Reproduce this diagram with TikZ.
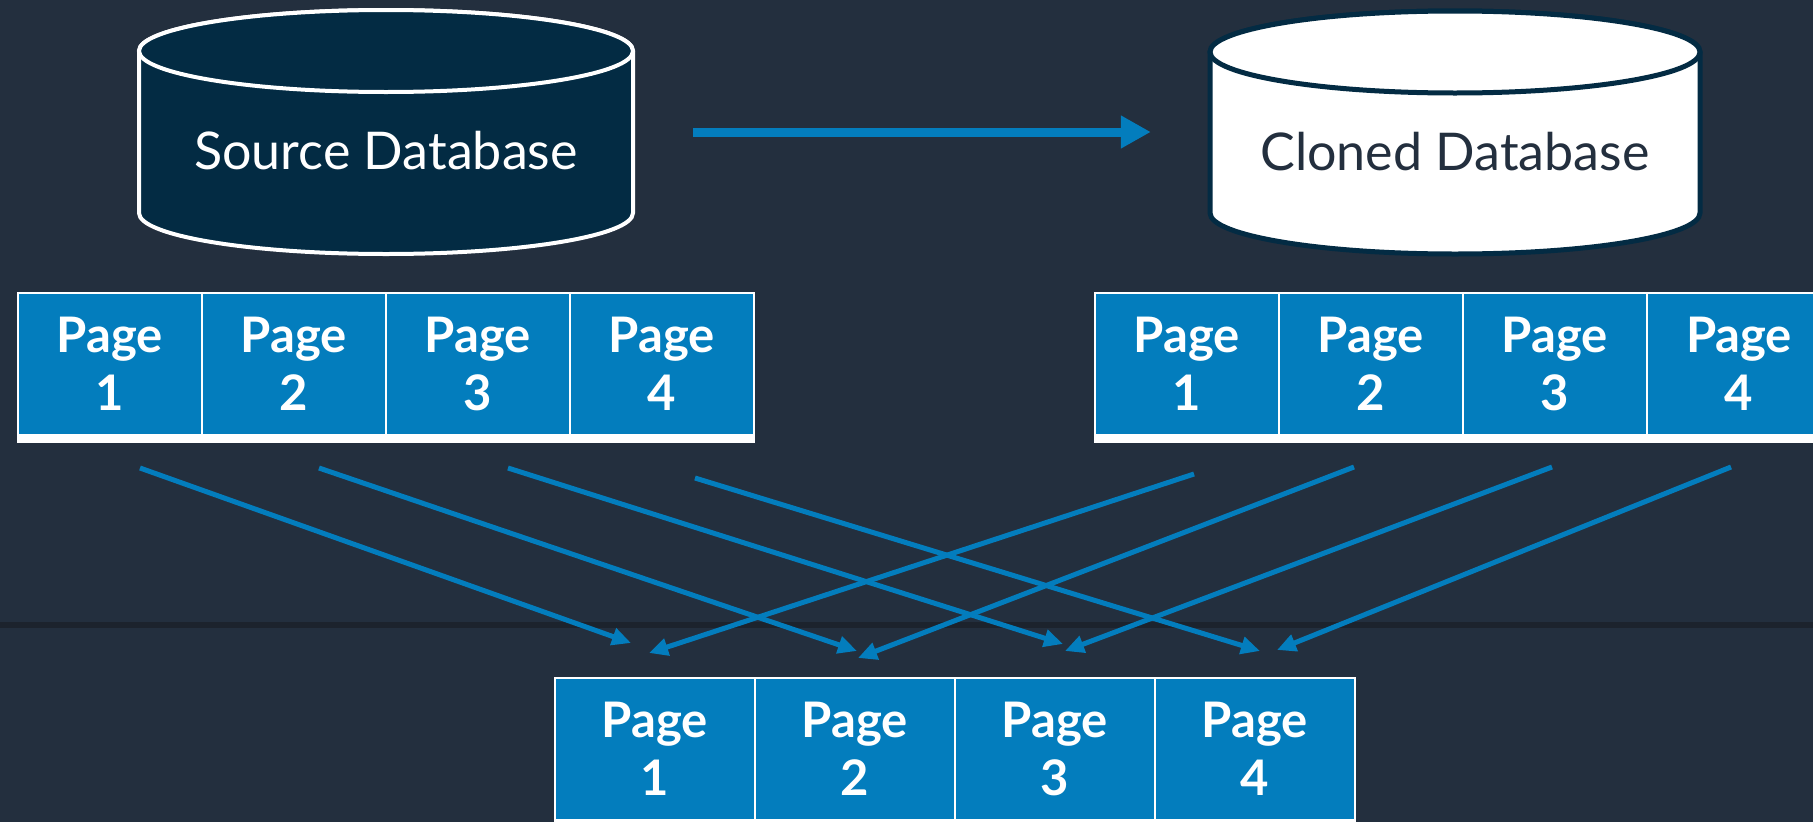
\documentclass[tikz,border=0pt]{standalone}
\usepackage{fontspec}
\setmainfont{Lato}
\usetikzlibrary{arrows.meta,calc}
\definecolor{bg}{HTML}{232F3E}
\definecolor{sepline}{HTML}{1C232D}
\definecolor{navy}{HTML}{032B43}
\definecolor{pageblue}{HTML}{037DBD}
\definecolor{inkdark}{HTML}{232F3E}
\begin{document}
\begin{tikzpicture}[x=1pt,y=1pt,
  cell/.style={rectangle, fill=pageblue, draw=white, line width=2pt,
    minimum width=184pt, minimum height=142pt, inner sep=0pt,
    font=\fontsize{49}{58}\selectfont\bfseries, text=white, align=center},
  bcell/.style={cell, minimum width=200pt},
  dblabel/.style={rectangle, minimum width=490pt, minimum height=10pt, inner sep=0pt,
    font=\fontsize{52}{60}\selectfont},
  bigarrow/.style={draw=pageblue, line width=9pt, -{Triangle[length=30pt,width=31pt]}},
  link/.style={draw=pageblue, line width=5pt, -{Triangle[length=19pt,width=17pt]}},
]
\useasboundingbox (0,0) rectangle (1813,-822);
\clip (0,0) rectangle (1813,-822);
\fill[bg] (0,0) rectangle (1813,-822);
\fill[sepline] (0,-622) rectangle (1813,-628);

% Source database cylinder
\path[fill=navy, draw=white, line width=4pt]
  (139,-51) -- (139,-213) arc[start angle=180, end angle=360, x radius=247, y radius=41]
  -- (633,-51) arc[start angle=0, end angle=180, x radius=247, y radius=41] -- cycle;
\draw[fill=navy, draw=white, line width=4pt] (386,-51) ellipse[x radius=247, y radius=41];
\node[dblabel, text=white] (srcdb) at (386,-151) {Source Database};

% Cloned database cylinder
\path[fill=white, draw=navy, line width=5pt]
  (1210,-52) -- (1210,-213) arc[start angle=180, end angle=360, x radius=245, y radius=41]
  -- (1700,-52) arc[start angle=0, end angle=180, x radius=245, y radius=41] -- cycle;
\draw[fill=white, draw=navy, line width=5pt] (1455,-52) ellipse[x radius=245, y radius=41];
\node[dblabel, text=inkdark] (clndb) at (1455,-152) {Cloned Database};

\draw[bigarrow] ([shift={(62,19)}]srcdb.east) -- ([shift={(-59,20)}]clndb.west);

% Source pages
\node[cell] (s1) at (110,-364) {Page\\1};
\node[cell] (s2) at (294,-364) {Page\\2};
\node[cell] (s3) at (478,-364) {Page\\3};
\node[cell] (s4) at (662,-364) {Page\\4};
\fill[white] (17,-435) rectangle (755,-443);

% Cloned pages
\node[cell] (c1) at (1187,-364) {Page\\1};
\node[cell] (c2) at (1371,-364) {Page\\2};
\node[cell] (c3) at (1555,-364) {Page\\3};
\node[cell] (c4) at (1739,-364) {Page\\4};
\fill[white] (1094,-435) rectangle (1813,-443);

% Bottom pages
\node[bcell] (b1) at (655,-749) {Page\\1};
\node[bcell] (b2) at (855,-749) {Page\\2};
\node[bcell] (b3) at (1055,-749) {Page\\3};
\node[bcell] (b4) at (1255,-749) {Page\\4};
\fill[white] (554,-820) rectangle (1356,-828);

% Links
\draw[link] ([shift={(30,-32)}]s1.south) -- ([shift={(-24,34)}]b1.north);
\draw[link] ([shift={(25,-32)}]s2.south) -- ([shift={(2,26)}]b2.north);
\draw[link] ([shift={(30,-32)}]s3.south) -- ([shift={(8,33)}]b3.north);
\draw[link] ([shift={(33,-42)}]s4.south) -- ([shift={(5,26)}]b4.north);
\draw[link] ([shift={(7,-38)}]c1.south) -- ([shift={(-6,24)}]b1.north);
\draw[link] ([shift={(-17,-31)}]c2.south) -- ([shift={(3,19)}]b2.north);
\draw[link] ([shift={(-3,-31)}]c3.south) -- ([shift={(10,26)}]b3.north);
\draw[link] ([shift={(-8,-31)}]c4.south) -- ([shift={(22,27)}]b4.north);
\end{tikzpicture}
\end{document}
